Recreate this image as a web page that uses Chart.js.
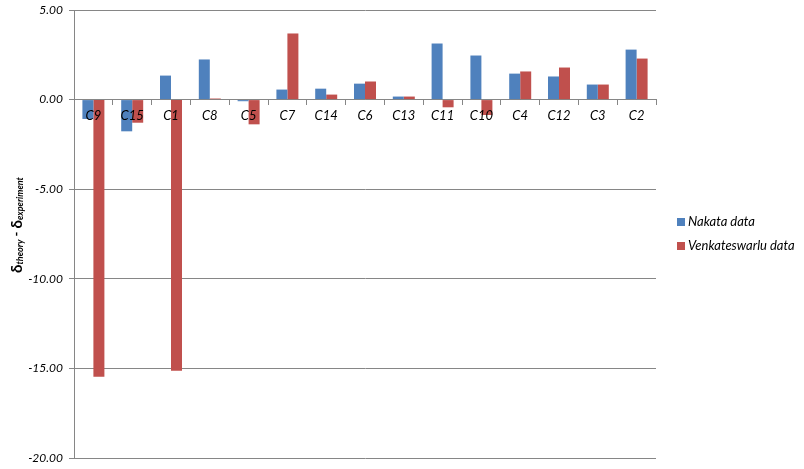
<!DOCTYPE html>
<html><head><meta charset="utf-8">
<script src="https://cdn.jsdelivr.net/npm/chart.js@4"></script>
<style>html,body{margin:0;padding:0;background:#fff}#wrap{width:804px;height:469px;position:relative}</style>
</head><body><div id="wrap"><canvas id="c"></canvas></div>
<script>
const categories = ['C9','C15','C1','C8','C5','C7','C14','C6','C13','C11','C10','C4','C12','C3','C2'];
const nakata = [-1.08,-1.77,1.34,2.24,-0.09,0.56,0.61,0.89,0.17,3.13,2.46,1.45,1.29,0.84,2.79];
const venkat = [-15.47,-1.29,-15.13,0.06,-1.38,3.69,0.28,1.01,0.17,-0.43,-0.86,1.57,1.79,0.84,2.29];
const seriesNames = ['Nakata data','Venkateswarlu data'];
const seriesColors = ['#4F81BD','#C0504D'];
const yMin = -20, yMax = 5, yStep = 5;

const FONT = 'Lato';
const AX = '#868686';

const yTitlePlugin = {
  id: 'yTitle',
  afterDraw(chart) {
    const ctx = chart.ctx;
    const parts = [
      {t:'δ', f:'bold 15px ' + FONT, dy:0},
      {t:'theory', f:'bold italic 9px ' + FONT, dy:3},
      {t:' - ', f:'bold 13px ' + FONT, dy:0},
      {t:'δ', f:'bold 15px ' + FONT, dy:0},
      {t:'experiment', f:'bold italic 9px ' + FONT, dy:3}
    ];
    ctx.save();
    let total = 0;
    parts.forEach(p => { ctx.font = p.f; p.w = ctx.measureText(p.t).width; total += p.w; });
    ctx.translate(17, 225);
    ctx.rotate(-Math.PI/2);
    ctx.fillStyle = '#000';
    ctx.textBaseline = 'middle';
    let x = -total/2;
    parts.forEach(p => { ctx.font = p.f; ctx.fillText(p.t, x, p.dy); x += p.w; });
    ctx.restore();
  }
};

const legendPlugin = {
  id: 'customLegend',
  afterDraw(chart) {
    const ctx = chart.ctx;
    ctx.save();
    ctx.font = 'italic 13px ' + FONT;
    ctx.textBaseline = 'middle';
    chart.data.datasets.forEach((ds, i) => {
      const y = 222 + i * 24;
      ctx.fillStyle = ds.backgroundColor;
      ctx.fillRect(677, y - 4, 8, 8);
      ctx.fillStyle = '#000';
      ctx.fillText(ds.label, 688, y);
    });
    ctx.restore();
  }
};

function noPad(s) { s.paddingTop = 0; s.paddingBottom = 0; s.paddingLeft = 0; s.paddingRight = 0; }

new Chart(document.getElementById('c'), {
  type: 'bar',
  data: {
    labels: categories,
    datasets: [
      {label: seriesNames[0], data: nakata, backgroundColor: seriesColors[0]},
      {label: seriesNames[1], data: venkat, backgroundColor: seriesColors[1]}
    ]
  },
  options: {
    responsive: true,
    maintainAspectRatio: false,
    animation: false,
    devicePixelRatio: 1,
    categoryPercentage: 0.567,
    barPercentage: 1,
    layout: {padding: {top: 10, bottom: 11, left: 0, right: 148}},
    plugins: {legend: {display: false}, tooltip: {enabled: false}},
    scales: {
      x: {
        type: 'category',
        position: {y: 0},
        afterFit: noPad,
        grid: {display: true, drawOnChartArea: false, offset: true, tickLength: 5, color: AX},
        border: {display: true, color: AX},
        ticks: {z: 1, font: {family: FONT, size: 13, style: 'italic'}, color: '#000', maxRotation: 0, autoSkip: false, padding: 3}
      },
      y: {
        min: yMin, max: yMax,
        afterFit(s) { s.width = 74; noPad(s); },
        ticks: {stepSize: yStep, callback: v => v.toFixed(2), font: {family: FONT, size: 12, style: 'italic'}, color: '#000', padding: 6},
        grid: {color: AX, tickLength: 5},
        border: {display: true, color: AX}
      }
    }
  },
  plugins: [yTitlePlugin, legendPlugin]
});
</script>
</body></html>
